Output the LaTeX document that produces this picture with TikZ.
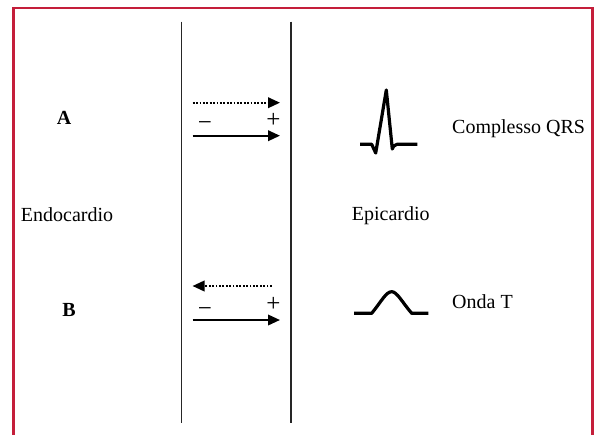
\documentclass[tikz,border=0pt]{standalone}
\usepackage{fontspec}
\setmainfont{Liberation Serif}
\usetikzlibrary{arrows.meta}
\definecolor{framered}{RGB}{196,30,58}
\begin{document}
\begin{tikzpicture}[x=1pt,y=-1pt,
  lbl/.style={inner sep=0pt, anchor=base west, font=\fontsize{20}{24}\selectfont},
  biglbl/.style={inner sep=0pt, anchor=base, font=\fontsize{20}{24}\selectfont\bfseries},
  sign/.style={inner sep=0pt, anchor=base, font=\fontsize{25}{28}\selectfont},
  wall/.style={line width=1.7pt, black!85},
  arr/.style={line width=2.1pt, -{Triangle[length=12pt,width=10.5pt]}},
  dotarr/.style={arr, dash pattern=on 1.8pt off 1.6pt},
  wave/.style={line width=3.2pt, line join=round},
  frame/.style={line width=2.6pt, framered}
]
\clip (0,0) rectangle (594,434);
\fill[white] (0,0) rectangle (594,434);
% frame (open at bottom)
\coordinate (fbl) at (13.5,440);
\coordinate (ftl) at (13.5,8);
\coordinate (ftr) at (592.5,8);
\coordinate (fbr) at (592.5,440);
\draw[frame] (fbl) -- (ftl) -- (ftr) -- (fbr);
% walls
\coordinate (w1t) at (181.5,21.7);
\coordinate (w1b) at (181.5,423);
\coordinate (w2t) at (290.7,21.7);
\coordinate (w2b) at (290.7,423);
\draw[wall] (w1t) -- (w1b);
\draw[wall] (w2t) -- (w2b);
% labels
\node[biglbl] (A) at (64,124.5) {A};
\node[biglbl] (B) at (69,316) {B};
\node[lbl] (endo) at (20.7,221.5) {Endocardio};
\node[lbl] (epi) at (351.7,220.5) {Epicardio};
\node[lbl] (qrs) at (452,133) {Complesso QRS};
\node[lbl] (onda) at (452,308) {Onda T};
% A arrows
\coordinate (a1s) at (192.7,102.7);
\coordinate (a1e) at (280,102.7);
\coordinate (a2s) at (192.7,135.7);
\coordinate (a2e) at (280,135.7);
\draw[dotarr] (a1s) -- (a1e);
\draw[arr] (a2s) -- (a2e);
\node[sign] (am) at (205,130.5) {−};
\node[sign] (ap) at (273.5,127.5) {+};
% B arrows
\coordinate (b1s) at (271.7,286);
\coordinate (b1e) at (192.5,286);
\coordinate (b2s) at (192.7,320);
\coordinate (b2e) at (280,320);
\draw[dotarr] (b1s) -- (b1e);
\draw[arr] (b2s) -- (b2e);
\node[sign] (bm) at (205,316) {−};
\node[sign] (bp) at (273.5,311.5) {+};
% QRS complex
\draw[wave] (360,144.3) -- (371.7,144.3) -- (375.7,153) -- (386.3,90) -- (392.3,149)
  .. controls (394,145.5) .. (397,144.3) -- (417.3,144.3);
% T wave
\draw[wave] (354,313.3) -- (371.7,313.3)
  .. controls (381,302) and (386,291.7) .. (391.7,291.7)
  .. controls (397,291.7) and (402,302) .. (411.7,313.3) -- (428.3,313.3);
\end{tikzpicture}
\end{document}
